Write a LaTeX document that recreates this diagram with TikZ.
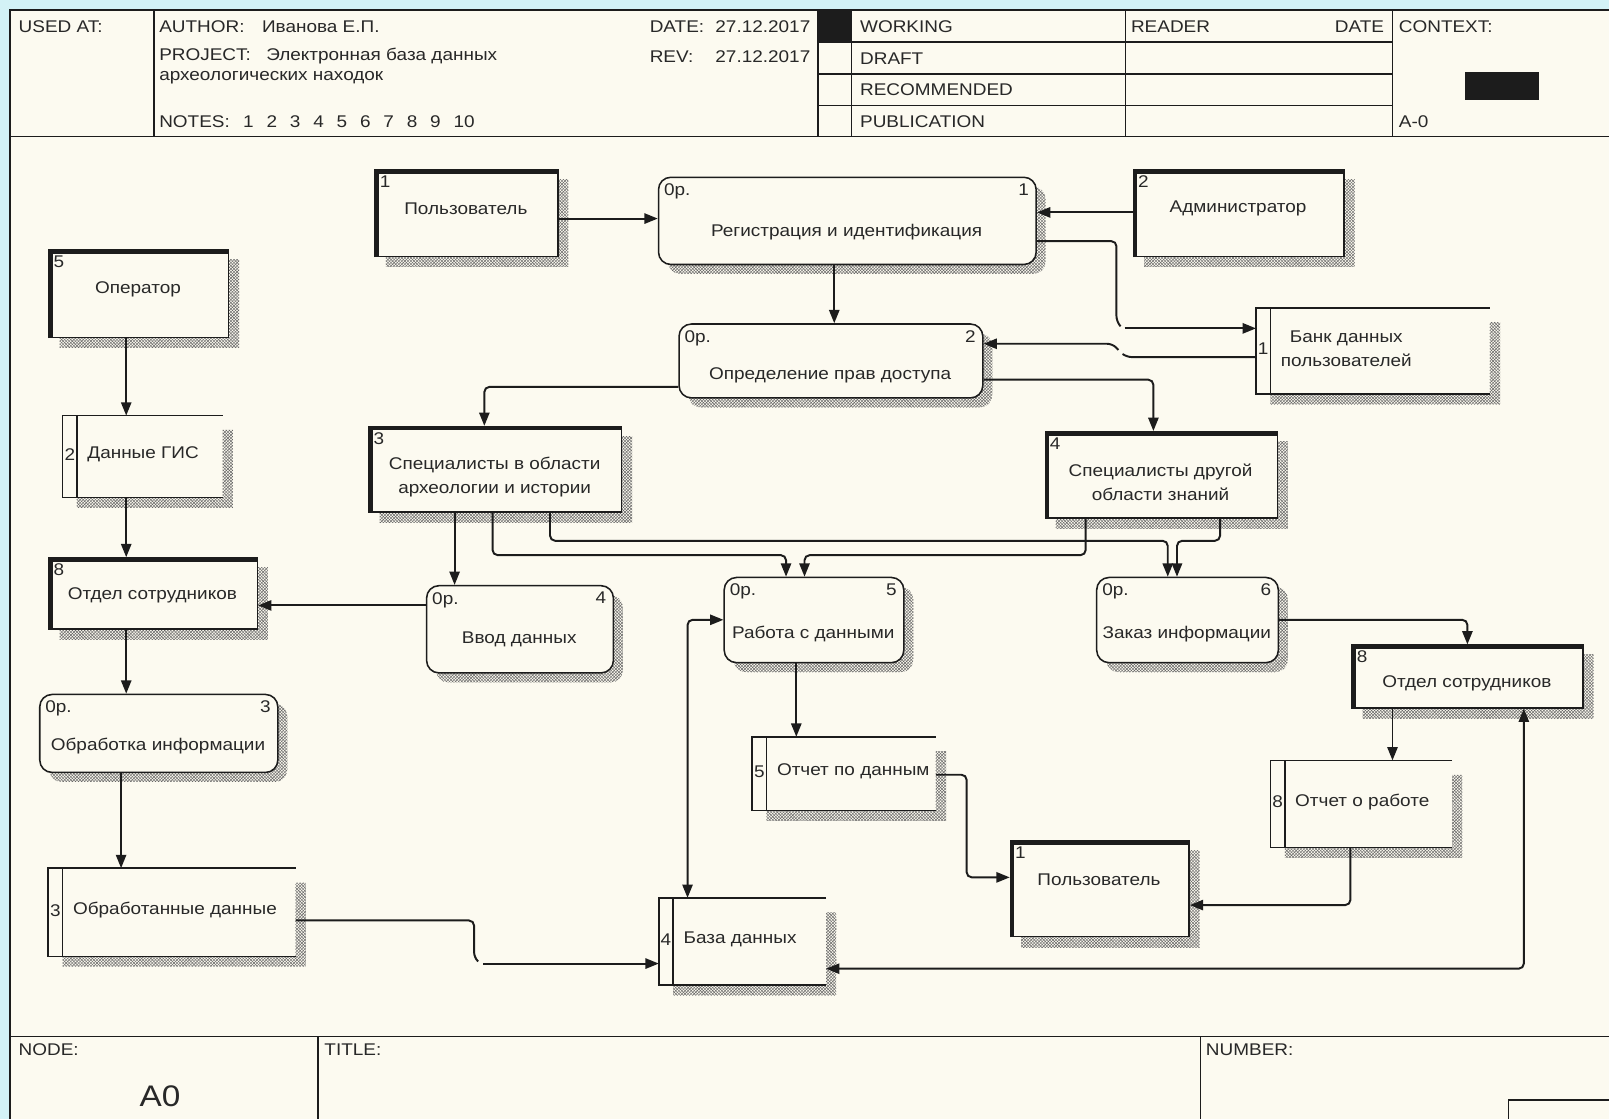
\documentclass[tikz,border=0pt]{standalone}
\usepackage{fontspec}
\setmainfont{Liberation Sans}[FakeStretch=1.12]
\usetikzlibrary{arrows.meta,patterns,calc}
\definecolor{paper}{RGB}{252,250,240}
\definecolor{sky}{RGB}{211,242,246}
\definecolor{ink}{RGB}{28,28,28}
\definecolor{txtc}{RGB}{40,40,40}
\tikzset{
 frameln/.style={draw=ink, line width=1.5pt},
 boxln/.style={draw=ink, line width=1.5pt},
 boxst/.style={draw=ink, line width=1.5pt, fill=paper, inner sep=0pt, anchor=north west},
 shpat/.style={pattern=crosshatch, pattern color=black!60},
 lbl/.style={inner sep=0pt, text=txtc},
 conn/.style={draw=ink, line width=1.9pt, rounded corners=5pt},
 arr/.style={conn, -{Triangle[length=13pt,width=10pt]}},
 arrboth/.style={conn, {Triangle[length=13pt,width=10pt]}-{Triangle[length=13pt,width=10pt]}},
}
\newcommand\ExtBox[8]{%
  \pgfmathsetmacro\bw{#4-#2}\pgfmathsetmacro\bh{#5-#3}%
  \fill[shpat] (#2+11,#3+10) rectangle (#4+11,#5+11);
  \node[boxst, minimum width=\bw pt, minimum height=\bh pt] (#1) at (#2,#3) {};
  \draw[ink, line width=4.5pt] ($(#1.south west)+(2.2,0)$) -- ($(#1.north west)+(2.2,2.2)$) -- ($(#1.north east)+(0,2.2)$);
  \node[lbl, anchor=north west] (#1n) at (#2+5,#3+6) {#6};
  \node[lbl, align=center] (#1t) at ({(#2+#4)/2},#8) {#7};
}
\newcommand\ProcBox[8]{%
  \pgfmathsetmacro\bw{#4-#2}\pgfmathsetmacro\bh{#5-#3}%
  \fill[shpat, rounded corners=12pt] (#2+10,#3+10) rectangle (#4+10,#5+10);
  \node[boxst, rounded corners=12pt, minimum width=\bw pt, minimum height=\bh pt] (#1) at (#2,#3) {};
  \node[lbl, anchor=north west] (#1a) at (#2+6,#3+7) {0p.};
  \node[lbl, anchor=north east] (#1n) at (#4-6,#3+7) {#6};
  \node[lbl, align=center] (#1t) at ({(#2+#4)/2},#8) {#7};
}
\newcommand\StoreBox[7]{%
  \pgfmathsetmacro\bw{#4-#2}\pgfmathsetmacro\bh{#5-#3}%
  \fill[shpat] (#2+14,#5) -- (#4,#5) -- (#4,#3+14) -- (#4+10,#3+14) -- (#4+10,#5+10) -- (#2+14,#5+10) -- cycle;
  \node[inner sep=0pt, outer sep=0pt, minimum width=\bw pt, minimum height=\bh pt, anchor=north west] (#1) at (#2,#3) {};
  \draw[boxln] (#1.north east) -- (#1.north west) -- (#1.south west) -- (#1.south east);
  \draw[boxln] ($(#1.north west)+(14,0)$) -- ($(#1.south west)+(14,0)$);
  \node[lbl] (#1n) at (#2+7,{(#3+#5)/2-2}) {#6};
  \node[lbl, anchor=west, align=center] (#1t) at (#2+24,{(#3+#5)/2-2}) {#7};
}
\begin{document}
\begin{tikzpicture}[x=1pt,y=-1pt,font=\fontsize{16.5}{23}\selectfont]
\useasboundingbox (0,0) rectangle (1568,1090);
\fill[sky] (0,0) rectangle (1568,1090);
\fill[paper] (10,10) rectangle (1568,1090);
% header frame
\draw[frameln] (10,1090) -- (10,10) -- (1568,10);
\draw[frameln] (10,133) -- (1568,133);
\foreach \xx in {150,797,830,1097,1357} \draw[frameln] (\xx,10) -- (\xx,133);
\foreach \yy in {41,72,103} \draw[frameln] (797,\yy) -- (1357,\yy);
\fill[ink] (797,10) rectangle (830,41);
\fill[ink] (1428,70) rectangle (1500,97);
% footer frame
\draw[frameln] (10,1010) -- (1568,1010);
\draw[frameln] (310,1010) -- (310,1090);
\draw[frameln] (1170,1010) -- (1170,1090);
\draw[frameln] (1470,1090) -- (1470,1072) -- (1568,1072);
% header texts
\node[lbl, anchor=west] (hUsed) at (18,26) {USED AT:};
\node[lbl, anchor=west] (hAuth) at (155,26) {AUTHOR:\hspace{17pt}Иванова Е.П.};
\node[lbl, anchor=west] (hProj) at (155,55) {PROJECT:\hspace{15pt}Электронная база данных};
\node[lbl, anchor=west] (hProj2) at (155,76) {археологических находок};
\node[lbl, anchor=west] (hNotes) at (155,119) {NOTES:\hspace{13pt}1\hspace{12.5pt}2\hspace{12.5pt}3\hspace{12.5pt}4\hspace{12.5pt}5\hspace{12.5pt}6\hspace{12.5pt}7\hspace{12.5pt}8\hspace{12.5pt}9\hspace{12.5pt}10};
\node[lbl, anchor=west] (hDate) at (633,26) {\makebox[64pt][l]{DATE:}27.12.2017};
\node[lbl, anchor=west] (hRev) at (633,55) {\makebox[64pt][l]{REV:}27.12.2017};
\node[lbl, anchor=west] (hW) at (838,26) {WORKING};
\node[lbl, anchor=west] (hD) at (838,57) {DRAFT};
\node[lbl, anchor=west] (hR) at (838,87) {RECOMMENDED};
\node[lbl, anchor=west] (hP) at (838,119) {PUBLICATION};
\node[lbl, anchor=west] (hReader) at (1102,26) {READER};
\node[lbl, anchor=east] (hDate2) at (1349,26) {DATE};
\node[lbl, anchor=west] (hCtx) at (1363,26) {CONTEXT:};
\node[lbl, anchor=west] (hA) at (1363,119) {A-0};
% footer texts
\node[lbl, anchor=west] (fNode) at (18,1023) {NODE:};
\node[lbl, anchor=west] (fTitle) at (316,1023) {TITLE:};
\node[lbl, anchor=west] (fNum) at (1175,1023) {NUMBER:};
\node[lbl] (fA0) at (156,1068) {\fontsize{29}{32}\selectfont A0};
% boxes
\ExtBox{u1}{365}{165}{543}{249}{1}{Пользователь}{203}
\ProcBox{reg}{641}{172}{1009}{257}{1}{Регистрация и идентификация}{226}
\ExtBox{adm}{1104}{165}{1309}{249}{2}{Администратор}{203}
\ExtBox{op}{47}{243}{222}{328}{5}{Оператор}{282}
\ProcBox{def}{661}{315}{957}{387}{2}{Определение прав доступа}{366}
\StoreBox{bank}{1224}{300}{1452}{384}{1}{Банк данных\\пользователей}
\ExtBox{sp1}{359}{415}{605}{498}{3}{Специалисты в области\\археологии и истории}{465}
\ExtBox{sp2}{1018}{420}{1244}{504}{4}{Специалисты другой\\области знаний}{470}
\StoreBox{gis}{61}{405}{217}{485}{2}{Данные ГИС}
\ExtBox{otl}{47}{543}{250}{612}{8}{Отдел сотрудников}{580}
\ProcBox{vvod}{415}{570}{597}{655}{4}{Ввод данных}{623}
\ProcBox{rab}{705}{562}{880}{645}{5}{Работа с данными}{618}
\ProcBox{zak}{1068}{562}{1245}{645}{6}{Заказ информации}{618}
\ExtBox{otr}{1317}{628}{1542}{689}{8}{Отдел сотрудников}{666}
\ProcBox{obr}{38}{676}{270}{752}{3}{Обработка информации}{727}
\StoreBox{opd}{733}{718}{912}{790}{5}{Отчет по данным}
\StoreBox{orab}{1238}{741}{1415}{826}{8}{Отчет о работе}
\ExtBox{u2}{984}{819}{1158}{912}{1}{Пользователь}{857}
\StoreBox{obd}{47}{846}{288}{932}{3}{Обработанные данные}
\StoreBox{base}{642}{875}{805}{960}{4}{База данных}
% connectors
\coordinate (j3) at (1096,320);
\coordinate (j5) at (1090,341);
\coordinate (j12) at (471,939);
\draw[arr] (u1.east |- 0,213) -- (reg.west |- 0,213);
\draw[arr] (adm.west |- 0,207) -- (reg.east |- 0,207);
\draw[conn] (reg.east |- 0,235) -- (1088,235) -- (1088,313) -- (1092,318);
\draw[arr] (j3) -- (bank.west |- 0,320);
\draw[arr] (reg.south -| 813,0) -- (def.north -| 813,0);
\draw[conn] (bank.west |- 0,348) -- (1098,348) -- (1094,345);
\draw[arr] (j5) -- (1084,335) -- (def.east |- 0,335);
\draw[arr] (def.east |- 0,370) -- (1124,370) -- (sp2.north -| 1124,0);
\draw[arr] (def.west |- 0,377) -- (472,377) -- (sp1.north -| 472,0);
\draw[arr] (op.south -| 123,0) -- (gis.north -| 123,0);
\draw[arr] (gis.south -| 123,0) -- (otl.north -| 123,0);
\draw[arr] (otl.south -| 123,0) -- (obr.north -| 123,0);
\draw[arr] (obr.south -| 118,0) -- (obd.north -| 118,0);
\draw[conn] (obd.east |- 0,897) -- (462,897) -- (462,933) -- (466,937);
\draw[arr] (j12) -- (base.west |- 0,939);
\draw[arr] (vvod.west |- 0,590) -- (otl.east |- 0,590);
\draw[arr] (sp1.south -| 443,0) -- (vvod.north -| 443,0);
\draw[arr] (sp1.south -| 480,0) -- (480,541) -- (766,541) -- (rab.north -| 766,0);
\draw[arr] (sp2.south -| 1058,0) -- (1058,541) -- (784,541) -- (rab.north -| 784,0);
\draw[arr] (sp1.south -| 536,0) -- (536,527) -- (1138,527) -- (zak.north -| 1138,0);
\draw[arr] (sp2.south -| 1189,0) -- (1189,527) -- (1147,527) -- (zak.north -| 1147,0);
\draw[arr] (zak.east |- 0,604) -- (1430,604) -- (otr.north -| 1430,0);
\draw[arr] (otr.south -| 1357,0) -- (orab.north -| 1357,0);
\draw[arr] (orab.south -| 1316,0) -- (1316,882) -- (u2.east |- 0,882);
\draw[arr] (rab.south -| 776,0) -- (opd.north -| 776,0);
\draw[arr] (opd.east |- 0,755) -- (942,755) -- (942,855) -- (u2.west |- 0,855);
\draw[arrboth] (otr.south -| 1485,0) -- (1485,944) -- (base.east |- 0,944);
\draw[arrboth] (rab.west |- 0,604) -- (670,604) -- (base.north -| 670,0);
\end{tikzpicture}
\end{document}
